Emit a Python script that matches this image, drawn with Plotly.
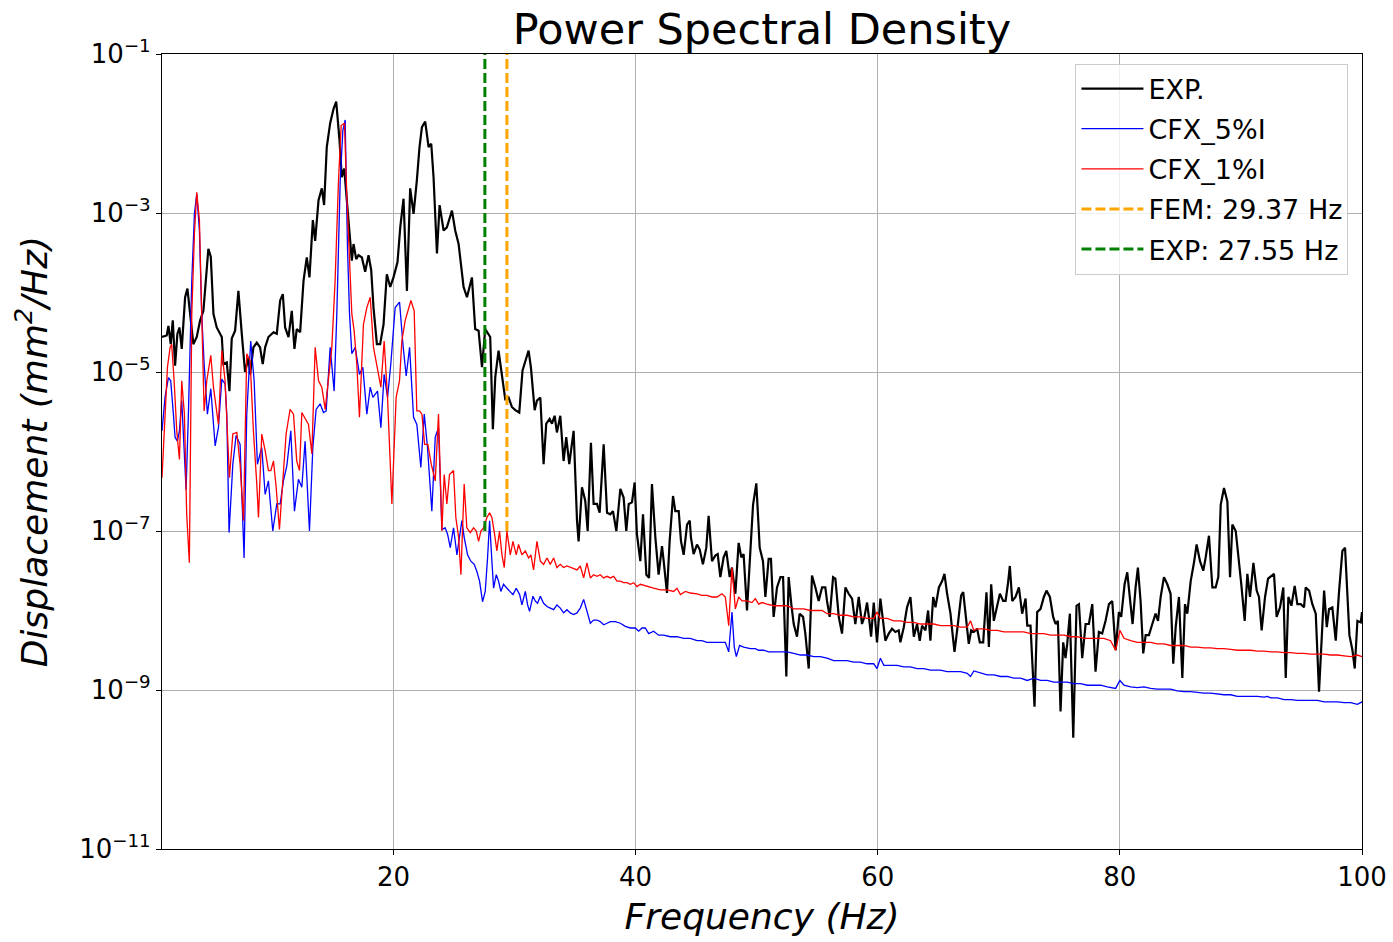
import plotly.graph_objects as go

# ---------------- data (frequencies in Hz, PSD stored as log10 of mm^2/Hz) ----------------
freq_exp = [0.88, 1.27, 1.41, 1.60, 1.77, 1.96, 2.15, 2.32, 2.51, 2.65, 2.79, 2.98, 3.20, 3.47, 3.75, 4.03,
            4.30, 4.58, 4.71, 4.91, 5.13, 5.40, 5.68, 5.82, 5.95, 6.23, 6.45, 6.64, 6.92, 7.19, 7.47, 7.74,
            8.02, 8.16, 8.43, 8.71, 8.98, 9.20, 9.40, 9.67, 10.09, 10.36, 10.64, 10.86, 11.05, 11.33, 11.60,
            11.82, 12.01, 12.29, 12.57, 12.84, 13.06, 13.34, 13.53, 13.81, 14.08, 14.27, 14.49, 14.77, 15.05,
            15.27, 15.54, 15.73, 15.93, 16.15, 16.42, 16.56, 16.70, 16.92, 17.11, 17.39, 17.66, 17.94, 18.16,
            18.35, 18.63, 18.90, 19.18, 19.45, 19.73, 20.00, 20.33, 20.56, 20.83, 21.11, 21.38, 21.66, 21.93,
            22.15, 22.35, 22.62, 22.90, 23.12, 23.31, 23.59, 23.81, 24.14, 24.41, 24.83, 25.10, 25.38, 25.79,
            26.07, 26.48, 26.75, 27.03, 27.31, 27.58, 27.99, 28.21, 28.41, 28.68, 28.96, 29.23, 29.51, 29.78,
            30.06, 30.39, 30.66, 31.16, 31.35, 31.66, 31.85, 32.13, 32.40, 32.62, 32.90, 33.09, 33.31, 33.50,
            33.78, 34.05, 34.27, 34.52, 34.88, 35.16, 35.29, 35.57, 35.84, 36.04, 36.31, 36.53, 36.81, 37.03,
            37.36, 37.64, 37.91, 38.13, 38.41, 38.74, 39.01, 39.23, 39.43, 39.70, 39.92, 40.11, 40.39, 40.61,
            40.89, 41.11, 41.35, 41.63, 41.90, 42.18, 42.32, 42.59, 42.81, 43.09, 43.28, 43.56, 43.75, 43.97,
            44.25, 44.47, 44.57, 44.79, 45.07, 45.29, 45.56, 45.84, 46.03, 46.31, 46.58, 46.78, 47.00, 47.27,
            47.49, 47.77, 47.96, 48.24, 48.51, 48.73, 48.92, 49.20, 49.48, 49.70, 49.97, 50.25, 50.52, 50.72,
            50.99, 51.18, 51.40, 51.68, 51.96, 52.18, 52.45, 52.64, 52.86, 53.06, 53.33, 53.55, 53.83, 54.02,
            54.30, 54.57, 54.85, 55.12, 55.40, 55.67, 55.81, 56.03, 56.31, 56.50, 56.78, 57.05, 57.33, 57.60,
            57.88, 58.15, 58.43, 58.70, 58.90, 59.12, 59.34, 59.45, 59.67, 59.94, 60.22, 60.44, 60.63, 60.91,
            61.18, 61.46, 61.73, 61.87, 62.15, 62.42, 62.70, 62.98, 63.25, 63.47, 63.66, 63.94, 64.16, 64.35,
            64.58, 64.77, 65.05, 65.32, 65.51, 65.73, 66.01, 66.15, 66.34, 66.62, 66.89, 67.06, 67.25, 67.52,
            67.72, 67.94, 68.21, 68.43, 68.71, 68.98, 69.18, 69.37, 69.59, 69.81, 70.09, 70.36, 70.56, 70.75,
            70.91, 71.11, 71.38, 71.66, 71.93, 72.21, 72.35, 72.62, 72.95, 73.17, 73.45, 73.72, 73.94, 74.22,
            74.49, 74.69, 74.88, 75.10, 75.32, 75.51, 75.65, 75.87, 76.15, 76.42, 76.62, 76.89, 77.17, 77.44,
            77.72, 77.99, 78.27, 78.54, 78.82, 79.10, 79.37, 79.65, 79.92, 80.11, 80.39, 80.61, 80.83, 81.05,
            81.30, 81.49, 81.71, 81.93, 82.13, 82.40, 82.68, 82.95, 83.15, 83.37, 83.64, 83.92, 84.19, 84.41,
            84.61, 84.88, 85.16, 85.38, 85.57, 85.85, 86.12, 86.34, 86.62, 86.89, 87.09, 87.36, 87.64, 87.91,
            88.13, 88.33, 88.60, 88.88, 89.10, 89.29, 89.57, 89.76, 90.03, 90.31, 90.53, 90.75, 91.03, 91.30,
            91.49, 91.71, 91.99, 92.24, 92.51, 92.73, 92.95, 93.23, 93.50, 93.70, 93.92, 94.17, 94.44, 94.66,
            94.94, 95.21, 95.35, 95.63, 95.90, 96.18, 96.45, 96.65, 96.87, 97.09, 97.28, 97.55, 97.83, 98.11,
            98.38, 98.60, 98.79, 98.96, 99.21, 99.40, 99.62, 99.90, 100.0]
log_psd_exp = [-4.56, -4.54, -4.42, -4.65, -4.35, -4.92, -4.52, -4.44, -4.71, -4.35, -4.06, -3.95, -4.27, -4.65,
               -4.56, -4.35, -4.23, -3.68, -3.45, -3.55, -4.27, -4.44, -4.52, -4.56, -4.90, -4.88, -5.24, -4.58,
               -4.48, -3.98, -4.52, -5.00, -4.82, -5.03, -4.69, -4.63, -4.69, -4.90, -4.69, -4.56, -4.50, -4.52,
               -4.10, -4.02, -4.44, -4.56, -4.23, -4.71, -4.46, -4.50, -3.85, -3.56, -3.81, -3.09, -3.35, -2.84,
               -2.69, -2.90, -2.17, -1.87, -1.69, -1.60, -2.08, -2.55, -2.44, -2.84, -3.26, -3.60, -3.39, -3.58,
               -3.53, -3.56, -3.74, -3.53, -3.72, -4.19, -4.65, -4.65, -4.40, -3.77, -3.93, -3.81, -3.62, -3.18,
               -2.82, -3.98, -2.69, -3.01, -2.59, -2.17, -1.92, -1.85, -2.17, -2.13, -2.55, -3.51, -2.90, -3.22,
               -3.18, -2.97, -3.22, -3.39, -3.93, -4.06, -3.81, -4.46, -4.48, -4.94, -4.46, -4.56, -5.72, -5.06,
               -4.73, -5.02, -5.34, -5.32, -5.44, -5.48, -5.51, -4.98, -4.73, -4.94, -5.48, -5.36, -5.32, -6.16,
               -5.65, -5.59, -5.65, -5.55, -5.76, -5.55, -6.12, -5.82, -6.16, -5.74, -6.87, -7.13, -6.45, -6.62,
               -7.00, -5.89, -6.66, -6.66, -6.77, -5.91, -6.77, -6.79, -6.75, -7.00, -6.47, -6.58, -7.00, -6.66,
               -6.64, -6.39, -7.04, -7.38, -6.79, -7.55, -7.59, -6.41, -7.08, -7.55, -7.19, -7.38, -7.78, -7.13,
               -6.56, -6.75, -6.75, -7.13, -7.30, -6.92, -6.87, -7.08, -7.29, -7.17, -7.23, -7.42, -7.21, -6.81,
               -7.38, -7.31, -7.29, -7.58, -7.33, -7.25, -7.58, -7.46, -7.79, -7.15, -7.33, -7.29, -8.00, -7.25,
               -6.67, -6.40, -7.21, -7.38, -7.83, -7.35, -7.35, -8.08, -7.71, -7.58, -7.58, -8.83, -7.58, -7.92,
               -8.17, -8.33, -8.04, -8.08, -8.29, -8.73, -7.56, -7.71, -7.88, -7.71, -7.71, -7.88, -8.08, -7.58,
               -7.60, -8.08, -8.29, -7.71, -7.79, -7.85, -8.17, -7.83, -8.17, -8.08, -7.90, -8.17, -8.33, -7.90,
               -8.40, -7.85, -8.13, -8.38, -8.29, -8.23, -8.27, -8.25, -8.40, -8.21, -7.96, -7.83, -8.33, -8.17,
               -8.38, -8.19, -8.25, -8.00, -8.38, -7.83, -7.96, -7.71, -7.63, -7.54, -7.79, -8.04, -8.25, -8.52,
               -8.17, -7.81, -7.77, -8.08, -8.42, -8.25, -8.27, -8.23, -8.40, -8.40, -7.77, -8.46, -7.67, -8.13,
               -7.96, -7.79, -7.88, -7.88, -7.67, -7.44, -7.88, -7.83, -7.71, -8.04, -7.85, -8.19, -8.19, -9.21,
               -8.02, -7.98, -7.83, -7.75, -7.83, -8.08, -8.17, -8.13, -9.27, -8.40, -8.60, -8.42, -8.04, -9.60,
               -7.94, -7.92, -8.60, -8.17, -8.17, -7.92, -8.77, -8.27, -8.29, -8.13, -7.92, -7.88, -8.50, -8.02,
               -8.08, -7.67, -7.52, -7.88, -8.17, -7.71, -7.46, -7.88, -8.54, -8.31, -8.31, -8.17, -8.04, -8.13,
               -7.83, -7.58, -7.67, -7.79, -8.67, -8.21, -7.83, -8.85, -7.92, -8.04, -7.63, -7.40, -7.17, -7.38,
               -7.50, -7.33, -7.06, -7.71, -7.71, -7.58, -6.67, -6.46, -6.63, -7.58, -6.92, -7.00, -7.25, -7.67,
               -8.13, -7.54, -7.83, -7.40, -7.75, -7.83, -8.25, -7.83, -7.60, -7.56, -7.54, -8.08, -7.96, -7.71,
               -8.85, -7.83, -7.94, -7.69, -7.92, -7.92, -7.96, -7.71, -7.75, -7.92, -8.04, -9.02, -8.38, -7.75,
               -8.21, -7.98, -7.96, -8.38, -7.75, -7.25, -7.21, -7.75, -8.31, -8.50, -8.73, -8.13, -8.15, -8.02]

freq_cfx5 = [0.88, 1.13, 1.41, 1.60, 1.82, 1.96, 2.15, 2.32, 2.51, 2.73, 2.87, 3.06, 3.34, 3.56, 3.75, 3.97,
             4.16, 4.36, 4.63, 4.91, 5.27, 5.54, 5.82, 6.09, 6.23, 6.42, 6.73, 7.00, 7.33, 7.66, 7.88, 8.21,
             8.49, 8.76, 9.12, 9.40, 9.67, 10.03, 10.36, 10.64, 10.91, 11.19, 11.52, 11.82, 12.15, 12.43, 12.70,
             13.06, 13.34, 13.61, 13.94, 14.22, 14.44, 14.77, 15.10, 15.32, 15.60, 15.82, 16.01, 16.20, 16.37,
             16.56, 16.84, 17.19, 17.47, 17.80, 18.08, 18.30, 18.49, 18.68, 18.96, 19.23, 19.51, 19.78, 20.14,
             20.50, 20.78, 21.05, 21.33, 21.66, 21.93, 22.26, 22.54, 22.81, 23.17, 23.45, 23.72, 24.00, 24.27,
             24.47, 24.69, 24.96, 25.24, 25.46, 25.65, 25.84, 26.12, 26.39, 26.67, 26.89, 27.11, 27.36, 27.58,
             27.77, 27.94, 28.13, 28.27, 28.49, 28.68, 28.87, 29.09, 29.37, 29.65, 29.87, 30.14, 30.42, 30.61,
             30.89, 31.08, 31.24, 31.52, 31.71, 31.90, 32.13, 32.40, 32.68, 32.95, 33.23, 33.50, 33.78, 34.05,
             34.33, 34.60, 34.88, 35.16, 35.43, 35.71, 35.98, 36.26, 36.53, 36.81, 37.08, 37.36, 37.64, 37.91,
             38.32, 38.74, 39.15, 39.56, 39.98, 40.25, 40.53, 40.80, 41.08, 41.49, 41.90, 42.32, 42.87, 43.42,
             43.97, 44.52, 45.07, 45.48, 45.89, 46.31, 46.72, 47.13, 47.41, 47.69, 47.96, 48.15, 48.32, 48.59,
             48.92, 49.48, 49.89, 50.16, 50.58, 50.99, 51.40, 51.96, 52.51, 53.06, 53.61, 54.16, 54.71, 55.26,
             55.81, 56.36, 56.91, 57.47, 58.02, 58.57, 59.12, 59.67, 59.94, 60.22, 60.50, 61.05, 61.60, 62.15,
             62.70, 63.25, 63.80, 64.35, 65.18, 65.73, 66.29, 66.84, 67.39, 67.66, 67.94, 68.49, 69.04, 69.59,
             70.14, 70.69, 71.24, 71.80, 72.35, 72.90, 73.45, 74.00, 74.55, 75.10, 75.65, 76.20, 76.75, 77.31,
             77.86, 78.41, 78.96, 79.65, 80.00, 80.34, 80.89, 81.44, 81.99, 82.54, 83.09, 83.64, 84.19, 84.74,
             85.30, 85.85, 86.40, 86.95, 87.50, 88.05, 88.60, 89.15, 89.70, 90.25, 90.81, 91.36, 91.91, 92.18,
             92.46, 93.01, 93.56, 94.11, 94.66, 95.21, 95.76, 96.32, 96.87, 97.42, 97.97, 98.52, 99.07, 99.62,
             100.0]
log_psd_cfx5 = [-5.74, -5.32, -5.07, -5.11, -5.53, -5.82, -5.87, -5.74, -5.36, -5.95, -6.48, -5.53, -3.85, -3.01,
                -2.76, -3.22, -4.27, -4.90, -5.53, -5.21, -5.93, -5.70, -5.09, -5.15, -5.53, -7.02, -6.16, -5.80,
                -5.91, -7.34, -5.53, -4.61, -5.11, -6.16, -5.95, -6.54, -6.37, -7.00, -6.66, -6.66, -6.37, -6.18,
                -5.74, -6.75, -6.35, -6.45, -5.87, -7.00, -5.95, -5.47, -5.40, -5.51, -5.49, -4.69, -5.24, -4.27,
                -2.59, -1.96, -1.83, -3.43, -4.27, -4.77, -4.69, -5.03, -4.94, -5.53, -5.19, -5.32, -5.28, -5.24,
                -5.70, -5.03, -5.32, -4.90, -4.19, -4.12, -4.65, -5.05, -4.69, -5.57, -5.66, -6.20, -5.53, -5.95,
                -6.75, -5.82, -5.70, -6.98, -6.96, -7.04, -7.21, -6.96, -7.30, -7.04, -6.87, -7.08, -7.30, -7.38,
                -7.42, -7.51, -7.63, -7.89, -7.76, -7.34, -6.87, -7.38, -7.72, -7.55, -7.63, -7.76, -7.67, -7.72,
                -7.76, -7.80, -7.72, -7.80, -7.93, -7.76, -7.93, -8.01, -7.82, -7.88, -7.91, -7.82, -7.91, -7.95,
                -7.97, -7.99, -7.93, -7.97, -8.03, -7.99, -8.03, -8.05, -8.03, -7.97, -7.86, -8.01, -8.16, -8.12,
                -8.12, -8.14, -8.18, -8.16, -8.14, -8.14, -8.16, -8.20, -8.22, -8.22, -8.26, -8.22, -8.22, -8.29,
                -8.26, -8.31, -8.31, -8.33, -8.33, -8.35, -8.35, -8.38, -8.38, -8.40, -8.40, -8.40, -8.40, -8.40,
                -8.52, -8.02, -8.46, -8.58, -8.44, -8.46, -8.48, -8.48, -8.50, -8.50, -8.52, -8.52, -8.52, -8.52,
                -8.54, -8.56, -8.56, -8.58, -8.58, -8.60, -8.63, -8.63, -8.63, -8.65, -8.65, -8.67, -8.67, -8.73,
                -8.60, -8.69, -8.69, -8.69, -8.71, -8.71, -8.73, -8.73, -8.75, -8.75, -8.77, -8.77, -8.77, -8.79,
                -8.83, -8.76, -8.79, -8.81, -8.81, -8.83, -8.83, -8.85, -8.85, -8.88, -8.85, -8.88, -8.88, -8.90,
                -8.90, -8.90, -8.92, -8.92, -8.94, -8.94, -8.94, -8.96, -8.98, -8.88, -8.94, -8.96, -8.97, -8.96,
                -8.98, -8.99, -8.99, -8.99, -9.01, -9.02, -9.02, -9.03, -9.04, -9.04, -9.05, -9.06, -9.06, -9.08,
                -9.08, -9.08, -9.08, -9.09, -9.08, -9.10, -9.10, -9.12, -9.12, -9.13, -9.13, -9.13, -9.13, -9.15,
                -9.15, -9.15, -9.16, -9.16, -9.18, -9.15]

freq_cfx1 = [0.88, 1.13, 1.33, 1.55, 1.68, 1.88, 2.10, 2.32, 2.51, 2.73, 2.92, 3.14, 3.34, 3.56, 3.75, 3.97,
             4.16, 4.36, 4.58, 4.91, 5.13, 5.35, 5.54, 5.82, 6.09, 6.45, 6.73, 7.06, 7.33, 7.61, 7.88, 8.16,
             8.43, 8.71, 8.85, 9.12, 9.40, 9.67, 9.87, 10.09, 10.31, 10.58, 10.86, 11.13, 11.46, 11.74, 12.01,
             12.24, 12.43, 12.70, 12.98, 13.26, 13.53, 13.81, 14.08, 14.36, 14.63, 14.91, 15.18, 15.46, 15.68,
             15.95, 16.15, 16.37, 16.56, 16.75, 16.97, 17.19, 17.52, 17.80, 18.08, 18.35, 18.68, 18.96, 19.23,
             19.51, 19.87, 20.22, 20.50, 20.69, 20.97, 21.24, 21.44, 21.71, 21.93, 22.15, 22.35, 22.57, 22.84,
             23.12, 23.45, 23.72, 24.00, 24.19, 24.41, 24.63, 24.96, 25.15, 25.38, 25.57, 25.84, 26.06, 26.34,
             26.62, 26.84, 27.03, 27.22, 27.44, 27.72, 27.94, 28.13, 28.35, 28.54, 28.76, 28.96, 29.15, 29.37,
             29.65, 29.87, 30.14, 30.33, 30.61, 30.89, 31.16, 31.35, 31.57, 31.85, 32.13, 32.40, 32.68, 32.95,
             33.23, 33.50, 33.78, 34.05, 34.33, 34.74, 35.16, 35.43, 35.71, 35.98, 36.26, 36.53, 36.81, 37.08,
             37.36, 37.64, 37.91, 38.19, 38.46, 38.74, 39.01, 39.29, 39.56, 39.84, 40.11, 40.39, 40.94, 41.49,
             42.04, 42.59, 43.14, 43.42, 43.70, 44.11, 44.52, 45.07, 45.48, 45.89, 46.31, 46.72, 47.13, 47.41,
             47.69, 47.96, 48.24, 48.51, 48.79, 49.20, 49.61, 49.89, 50.16, 50.44, 50.85, 51.40, 51.96, 52.51,
             53.06, 53.47, 53.88, 54.43, 54.99, 55.40, 55.81, 56.36, 56.91, 57.47, 58.02, 58.57, 59.12, 59.67,
             59.94, 60.22, 60.77, 61.32, 61.87, 62.42, 62.98, 63.53, 64.08, 64.63, 65.18, 65.73, 66.29, 66.84,
             67.39, 67.66, 67.94, 68.21, 68.76, 69.32, 69.87, 70.42, 70.97, 71.52, 72.07, 72.62, 73.17, 73.72,
             74.27, 74.83, 75.38, 75.93, 76.48, 77.03, 77.58, 78.13, 78.68, 79.23, 79.65, 80.00, 80.34, 80.89,
             81.44, 81.99, 82.54, 83.09, 83.64, 84.19, 84.74, 85.30, 85.85, 86.40, 86.95, 87.50, 88.05, 88.60,
             89.15, 89.70, 90.25, 90.81, 91.36, 91.91, 92.46, 93.01, 93.56, 94.11, 94.66, 95.21, 95.76, 96.32,
             96.87, 97.42, 97.97, 98.52, 99.07, 99.62, 100.0]
log_psd_cfx1 = [-6.33, -5.53, -4.94, -4.69, -4.65, -5.11, -5.74, -6.10, -5.11, -5.53, -6.79, -7.40, -4.27, -3.26,
                -2.74, -3.09, -4.27, -5.49, -5.11, -4.79, -5.19, -5.45, -5.66, -4.73, -5.11, -6.33, -5.78, -5.76,
                -6.16, -6.87, -4.77, -4.86, -5.74, -6.41, -6.83, -5.78, -5.99, -6.24, -6.24, -6.12, -6.45, -6.98,
                -6.37, -5.78, -5.47, -5.53, -6.12, -6.24, -5.51, -5.59, -5.66, -6.03, -4.69, -5.11, -5.19, -5.47,
                -5.11, -4.69, -3.85, -2.59, -1.90, -1.87, -2.80, -3.68, -4.27, -4.48, -4.90, -5.57, -4.40, -4.19,
                -4.06, -4.69, -4.98, -5.19, -4.61, -5.32, -6.66, -5.32, -5.11, -4.61, -4.35, -4.19, -4.10, -4.23,
                -5.49, -5.49, -5.53, -5.91, -5.91, -6.16, -6.37, -5.53, -7.00, -6.29, -6.66, -6.29, -6.24, -6.83,
                -7.08, -7.55, -6.41, -6.96, -7.02, -6.96, -7.00, -7.13, -7.00, -6.96, -6.83, -6.77, -6.83, -7.04,
                -7.25, -7.00, -7.30, -7.46, -7.00, -7.30, -7.13, -7.30, -7.17, -7.30, -7.25, -7.34, -7.30, -7.49,
                -7.13, -7.38, -7.42, -7.34, -7.42, -7.34, -7.46, -7.42, -7.46, -7.44, -7.46, -7.49, -7.44, -7.59,
                -7.40, -7.59, -7.55, -7.57, -7.55, -7.59, -7.57, -7.59, -7.57, -7.63, -7.63, -7.65, -7.65, -7.67,
                -7.65, -7.70, -7.67, -7.70, -7.72, -7.74, -7.74, -7.76, -7.72, -7.80, -7.76, -7.78, -7.79, -7.81,
                -7.81, -7.83, -7.83, -7.79, -7.83, -8.19, -7.46, -7.98, -7.83, -7.88, -7.88, -7.90, -7.85, -7.92,
                -7.90, -7.92, -7.94, -7.94, -7.94, -7.98, -7.98, -7.98, -8.00, -8.00, -8.00, -8.04, -8.04, -8.06,
                -8.06, -8.08, -8.08, -8.10, -8.10, -8.02, -8.10, -8.10, -8.13, -8.13, -8.15, -8.15, -8.17, -8.17,
                -8.17, -8.19, -8.19, -8.19, -8.21, -8.21, -8.13, -8.25, -8.23, -8.23, -8.25, -8.25, -8.27, -8.27,
                -8.27, -8.27, -8.29, -8.29, -8.29, -8.31, -8.31, -8.31, -8.33, -8.33, -8.35, -8.35, -8.35, -8.35,
                -8.38, -8.50, -8.25, -8.35, -8.38, -8.40, -8.40, -8.40, -8.42, -8.42, -8.44, -8.44, -8.44, -8.46,
                -8.46, -8.47, -8.47, -8.48, -8.48, -8.49, -8.50, -8.50, -8.50, -8.51, -8.51, -8.52, -8.52, -8.53,
                -8.53, -8.54, -8.54, -8.55, -8.55, -8.55, -8.56, -8.56, -8.57, -8.58, -8.56, -8.58]

fem_freq = 29.37
exp_freq = 27.55
vline_span = [1e-7, 1e-1]

x_ticks = [20, 40, 60, 80, 100]
y_tick_exponents = [-11, -9, -7, -5, -3, -1]

# ---------------- figure ----------------
psd_exp = [10 ** v for v in log_psd_exp]
psd_cfx5 = [10 ** v for v in log_psd_cfx5]
psd_cfx1 = [10 ** v for v in log_psd_cfx1]

FONT = "DejaVu Sans"
fig = go.Figure()
fig.add_trace(go.Scatter(x=freq_exp, y=psd_exp, mode="lines", name="EXP.", legendgroup="a",
                         line=dict(color="#000000", width=2.2)))
fig.add_trace(go.Scatter(x=freq_cfx5, y=psd_cfx5, mode="lines", name="CFX_5%I", legendgroup="b",
                         line=dict(color="#0000ff", width=1.3)))
fig.add_trace(go.Scatter(x=freq_cfx1, y=psd_cfx1, mode="lines", name="CFX_1%I", legendgroup="c",
                         line=dict(color="#ff0000", width=1.3)))
fig.add_trace(go.Scatter(x=[fem_freq, fem_freq], y=vline_span, mode="lines",
                         name=f"FEM: {fem_freq:.2f} Hz", legendgroup="d",
                         line=dict(color="#ffa500", width=3, dash="10px,4px")))
fig.add_trace(go.Scatter(x=[exp_freq, exp_freq], y=vline_span, mode="lines",
                         name=f"EXP: {exp_freq:.2f} Hz", legendgroup="e",
                         line=dict(color="#008000", width=3, dash="10px,4px")))

# full-window figure; the page body's default 8px margin is removed after plotting
fig.update_layout(
    width=1393, height=942,
    margin=dict(l=162, r=31, t=54, b=93),
    paper_bgcolor="white", plot_bgcolor="white",
    font=dict(family=FONT, color="black"),
    title=dict(text="Power Spectral Density", font=dict(family=FONT, size=43, color="black"),
               x=0.5, xref="paper", xanchor="center", y=1 - 29 / 942, yref="container", yanchor="middle"),
    legend=dict(x=0.9887, y=0.988, xanchor="right", yanchor="top",
                bgcolor="rgba(255,255,255,0.8)", bordercolor="#cccccc", borderwidth=1,
                font=dict(family=FONT, size=27, color="black"), tracegroupgap=2,
                traceorder="grouped", itemwidth=62),
    showlegend=True,
)
fig.update_xaxes(
    range=[0.88, 100], tickvals=x_ticks, ticktext=[str(t) for t in x_ticks],
    ticks="outside", ticklen=5, tickwidth=1, tickcolor="black",
    tickfont=dict(family=FONT, size=26, color="black"), ticklabeloverflow="allow",
    showgrid=True, gridcolor="#b0b0b0", gridwidth=1, automargin=False,
    showline=True, linecolor="black", linewidth=1.2, mirror=True, zeroline=False,
    title=dict(text="<i>Frequency (Hz)</i>", font=dict(family=FONT, size=36, color="black"), standoff=12),
)
fig.update_yaxes(
    type="log", range=[-11, -1],
    tickvals=[10.0 ** e for e in y_tick_exponents],
    ticktext=[f"10<sup>\u2212{-e}</sup>" for e in y_tick_exponents],
    ticks="outside", ticklen=5, tickwidth=1, tickcolor="black",
    tickfont=dict(family=FONT, size=26, color="black"), ticklabeloverflow="allow",
    showgrid=True, gridcolor="#b0b0b0", gridwidth=1, automargin=False,
    showline=True, linecolor="black", linewidth=1.2, mirror=True, zeroline=False,
    title=dict(text="<i>Displacement (mm<sup>2</sup>/Hz)</i>", font=dict(family=FONT, size=36, color="black"),
               standoff=20),
)

fig.write_html("out.html", config={"displayModeBar": False},
               post_script="document.body.style.margin = '0px';")
